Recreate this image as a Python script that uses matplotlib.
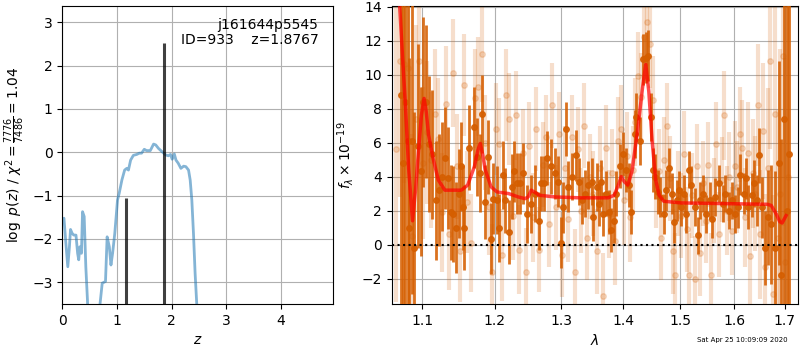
import numpy as np
import matplotlib
matplotlib.use('Agg')
import matplotlib.pyplot as plt
from matplotlib.ticker import FixedLocator, FixedFormatter, NullLocator

# --- p(z) panel ---
z_grid = [0.0, 0.03, 0.06, 0.10, 0.13, 0.15, 0.18, 0.21, 0.25, 0.28, 0.30, 0.32,
          0.35, 0.37, 0.40, 0.43, 0.46, 0.50, 0.60, 0.66, 0.69, 0.73, 0.79, 0.82,
          0.86, 0.89, 0.92, 0.96, 1.01, 1.04, 1.09, 1.14, 1.18, 1.21, 1.25, 1.30,
          1.36, 1.41, 1.45, 1.50, 1.54, 1.61, 1.67, 1.71, 1.76, 1.82, 1.89, 1.94,
          1.98, 2.01, 2.05, 2.08, 2.12, 2.17, 2.22, 2.26, 2.31, 2.34, 2.37, 2.40,
          2.43, 2.46, 2.52, 2.70]
logpz = [-1.56, -1.52, -2.02, -2.64, -2.18, -1.78, -1.87, -1.91, -1.91, -2.33, -2.48, -2.18,
         -2.33, -1.37, -1.48, -2.64, -3.41, -5.0, -6.0, -5.0, -3.5, -3.02, -2.98, -1.95,
         -2.18, -2.60, -2.33, -1.87, -1.10, -0.95, -0.64, -0.41, -0.37, -0.41, -0.18, -0.07,
         -0.05, -0.02, -0.02, 0.07, 0.04, 0.04, 0.19, 0.17, 0.09, 0.02, -0.06, -0.08,
         -0.05, -0.16, -0.04, -0.18, -0.25, -0.37, -0.32, -0.33, -0.41, -0.64, -1.10, -1.87,
         -2.79, -3.50, -5.0, -8.0]
z_peaks = [1.172, 1.859]
peak_heights = [-1.05, 2.52]
obj_label = 'j161644p5545\nID=933    z=1.8767'

# --- spectrum panel: bright beam (lambda in micron, flux in 1e-19) ---
wave_a = [1.0717, 1.0750, 1.0770, 1.0806, 1.0828, 1.0868, 1.0890, 1.0938, 1.0985, 1.1009,
          1.1044, 1.1088, 1.1132, 1.1185, 1.1219, 1.1260, 1.1295, 1.1340, 1.1384, 1.1415,
          1.1452, 1.1497, 1.1525, 1.1543, 1.1565, 1.1631, 1.1706, 1.1742, 1.1786, 1.1822,
          1.1862, 1.1905, 1.1945, 1.1975, 1.2038, 1.2058, 1.2120, 1.2150, 1.2199, 1.2250,
          1.2285, 1.2325, 1.2375, 1.2420, 1.2466, 1.2537, 1.2600, 1.2648, 1.2689, 1.2735,
          1.2781, 1.2843, 1.2895, 1.2947, 1.2990, 1.3030, 1.3069, 1.3110, 1.3170, 1.3227,
          1.3279, 1.3331, 1.3380, 1.3420, 1.3483, 1.3509, 1.3562, 1.3600, 1.3641, 1.3665,
          1.3720, 1.3765, 1.3806, 1.3845, 1.3889, 1.3945, 1.4000, 1.4045, 1.4101, 1.4142,
          1.4198, 1.4227, 1.4283, 1.4341, 1.4387, 1.4427, 1.4474, 1.4514, 1.4544, 1.4602,
          1.4631, 1.4707, 1.4737, 1.4796, 1.4845, 1.4886, 1.4929, 1.4970, 1.5018, 1.5060,
          1.5108, 1.5150, 1.5198, 1.5258, 1.5320, 1.5349, 1.5411, 1.5472, 1.5533, 1.5584,
          1.5645, 1.5709, 1.5784, 1.5828, 1.5893, 1.5956, 1.6019, 1.6071, 1.6115, 1.6181,
          1.6225, 1.6278, 1.6342, 1.6394, 1.6439, 1.6484, 1.6551, 1.6602, 1.6668, 1.6733,
          1.6798, 1.6878, 1.6917, 1.6985, 1.7040, 1.7097]
flux_a = [8.8, 4.8, 8.4, 6.1, 1.0, 6.1, -0.2, 5.8, 4.3, 8.4,
          8.4, 5.9, 5.3, 2.6, 3.2, 4.0, 5.1, 3.9, 1.9, 1.8,
          1.0, 3.0, 4.6, 2.2, 1.0, 5.7, 6.9, 5.15, 4.2, 7.7,
          2.5, 5.15, 0.35, 2.7, 2.6, 1.0, 4.1, 2.6, 0.75, 3.4,
          4.3, 3.6, 3.6, 4.2, 1.8, 2.4, 3.0, 1.4, 3.6, 3.6,
          5.1, 4.6, 4.2, 3.7, 0.1, 2.2, 6.8, 3.4, 4.0, 5.25,
          3.7, 2.6, 3.0, 3.5, 3.7, 1.6, 3.4, 2.4, 3.7, 1.8,
          3.0, 1.9, 0.85, 1.4, 3.0, 4.6, 5.35, 4.4, 3.5, 1.9,
          6.5, 7.5, 6.1, 10.9, 11.0, 11.1, 7.5, 4.4, 4.0, 3.1,
          2.8, 1.8, 3.2, 4.5, 3.0, 1.3, 2.6, 3.2, 2.2, 3.0,
          1.8, 4.4, 3.5, 2.2, 0.55, 2.6, 3.0, 1.8, 2.6, 1.5,
          2.8, 3.6, 2.4, 3.0, 2.0, 2.6, 1.8, 2.2, 4.1, 3.0,
          3.9, 2.2, 2.9, 3.6, 2.6, 5.25, 2.2, -0.2, 1.6, 1.2,
          -0.2, 4.8, -1.8, 7.4, 2.0, 5.35]
err_a = [16, 15, 14, 12, 10, 9, 8, 6, 5, 5,
         4.5, 4, 3.8, 3.5, 3.3, 3.2, 3.0, 3.0, 2.8, 2.8,
         2.7, 2.6, 2.6, 2.5, 2.5, 2.5, 2.4, 2.3, 2.3, 2.3,
         2.2, 2.2, 2.1, 2.1, 2.0, 2.0, 2.0, 1.9, 1.9, 1.9,
         1.8, 1.8, 1.8, 1.8, 1.7, 1.7, 1.7, 1.7, 1.6, 1.6,
         1.6, 1.6, 1.5, 1.5, 1.5, 1.5, 1.6, 1.5, 1.4, 1.5,
         1.4, 1.4, 1.4, 1.4, 1.4, 1.4, 1.4, 1.3, 1.3, 1.3,
         1.3, 1.3, 1.3, 1.3, 1.3, 1.3, 1.3, 1.3, 1.3, 1.3,
         1.4, 1.4, 1.4, 1.5, 1.5, 1.5, 1.4, 1.3, 1.3, 1.3,
         1.2, 1.2, 1.2, 1.2, 1.2, 1.2, 1.2, 1.1, 1.1, 1.1,
         1.1, 1.1, 1.1, 1.1, 1.1, 1.1, 1.1, 1.1, 1.1, 1.1,
         1.1, 1.1, 1.1, 1.1, 1.1, 1.1, 1.1, 1.2, 1.2, 1.2,
         1.2, 1.3, 1.3, 1.4, 1.5, 1.6, 1.8, 2.2, 2.8, 3.5,
         4.5, 6, 8, 11, 14, 16]

# --- spectrum panel: faint beam ---
wave_b = [1.066, 1.071, 1.076, 1.081, 1.086, 1.091, 1.096, 1.101, 1.106, 1.111,
          1.116, 1.121, 1.126, 1.131, 1.136, 1.141, 1.146, 1.151, 1.156, 1.161,
          1.166, 1.171, 1.176, 1.181, 1.186, 1.191, 1.196, 1.201, 1.206, 1.211,
          1.216, 1.221, 1.226, 1.231, 1.236, 1.241, 1.246, 1.251, 1.256, 1.261,
          1.266, 1.271, 1.276, 1.281, 1.286, 1.291, 1.296, 1.301, 1.306, 1.311,
          1.316, 1.321, 1.326, 1.331, 1.336, 1.341, 1.346, 1.351, 1.356, 1.361,
          1.366, 1.371, 1.376, 1.381, 1.386, 1.391, 1.396, 1.401, 1.406, 1.411,
          1.416, 1.421, 1.426, 1.431, 1.436, 1.441, 1.446, 1.451, 1.456, 1.461,
          1.466, 1.471, 1.476, 1.481, 1.486, 1.491, 1.496, 1.501, 1.506, 1.511,
          1.516, 1.521, 1.526, 1.531, 1.536, 1.541, 1.546, 1.551, 1.556, 1.561,
          1.566, 1.571, 1.576, 1.581, 1.586, 1.591, 1.596, 1.601, 1.606, 1.611,
          1.616, 1.621, 1.626, 1.631, 1.636, 1.641, 1.646, 1.651, 1.656, 1.661,
          1.666, 1.671, 1.676, 1.681, 1.686, 1.691, 1.696, 1.701, 1.706]
flux_b = [5.6, 10.8, 10.6, 10.4, 0.5, 7.4, 10.8, 4.8, 6.6, 5.0,
          7.7, 6.2, 1.9, 8.3, 0.6, 10.1, 4.6, -0.4, 9.4, 2.5,
          0.1, 8.6, 9.3, 11.2, 6.0, 2.2, -1.6, 6.8, 5.9, -0.6,
          8.8, 7.4, 1.7, 7.6, -0.3, 5.4, -1.6, 5.8, 1.6, 6.8,
          -0.3, 4.7, 6.3, 1.2, 8.2, 2.2, 6.5, -0.6, 4.5, 1.5,
          6.3, -1.6, 5.6, 2.0, 7.0, 0.4, 4.0, 3.0, -0.4, 4.5,
          -3.0, 5.7, 1.8, 4.2, 0.2, 6.1, 6.8, 2.6, 5.2, 1.6,
          4.4, 7.2, 9.9, 8.7, 12.2, 13.1, 11.8, 8.5, 3.5, 4.3,
          0.4, 5.0, 7.0, 3.9, -0.4, -1.8, 3.0, 1.7, 5.35, 0.9,
          -1.8, 2.9, -2.0, 4.6, -0.5, 3.6, 1.4, 4.7, -1.8, 2.6,
          5.9, 0.6, 3.8, 7.6, 2.0, 4.0, 0.8, 4.6, 3.4, 6.5,
          5.7, 1.6, 5.4, -0.7, 4.2, 3.0, 8.2, 0.6, 6.7, -1.3,
          4.5, 10.8, -2.9, 7.7, 0.4, 3.0, 11.1, -1.0, 4.0]
err_b = [9, 8, 7, 6.5, 6, 5.5, 5, 4.5, 4.2, 4,
         3.8, 3.6, 3.5, 3.4, 3.3, 3.2, 3.1, 3.0, 3.0, 3.0,
         2.9, 2.9, 2.9, 2.8, 2.8, 2.8, 2.8, 2.7, 2.7, 2.7,
         2.7, 2.7, 2.6, 2.6, 2.6, 2.6, 2.6, 2.6, 2.6, 2.5,
         2.5, 2.5, 2.5, 2.5, 2.5, 2.5, 2.5, 2.5, 2.5, 2.5,
         2.5, 2.5, 2.5, 2.5, 2.5, 2.5, 2.5, 2.5, 2.5, 2.5,
         2.5, 2.5, 2.6, 2.6, 2.6, 2.6, 2.6, 2.6, 2.6, 2.6,
         2.6, 2.6, 2.6, 2.6, 2.6, 2.6, 2.6, 2.6, 2.5, 2.5,
         2.5, 2.5, 2.5, 2.5, 2.5, 2.5, 2.5, 2.5, 2.5, 2.5,
         2.5, 2.5, 2.5, 2.5, 2.5, 2.5, 2.5, 2.5, 2.5, 2.5,
         2.5, 2.5, 2.5, 2.6, 2.6, 2.6, 2.6, 2.7, 2.7, 2.8,
         2.8, 2.9, 3.0, 3.1, 3.2, 3.4, 3.6, 3.8, 4.0, 4.3,
         4.7, 5.2, 5.8, 6.5, 7.5, 8.5, 10, 12, 14]

# --- best-fit model ---
model_wave = [1.066, 1.0708, 1.0740, 1.0773, 1.0818, 1.0869, 1.0910, 1.0947, 1.0985, 1.1021,
              1.1050, 1.1079, 1.1145, 1.1211, 1.1300, 1.1525, 1.1615, 1.1709, 1.1760, 1.1792,
              1.1825, 1.1862, 1.1945, 1.2029, 1.2199, 1.2344, 1.2442, 1.2490, 1.2536, 1.2600,
              1.2660, 1.2900, 1.3300, 1.3750, 1.3850, 1.3920, 1.3970, 1.4020, 1.4080, 1.4150,
              1.4250, 1.4330, 1.4387, 1.4440, 1.4500, 1.4560, 1.4620, 1.4700, 1.5000, 1.6000,
              1.6650, 1.6730, 1.6830, 1.6900, 1.6950, 1.7030]
model_flux = [17.0, 13.6, 11.0, 8.5, 4.5, 1.4, 3.3, 5.5, 7.6, 8.6,
              7.8, 6.5, 5.0, 3.8, 3.2, 3.2, 3.5, 4.6, 5.6, 5.95,
              5.3, 4.4, 3.4, 3.1, 3.0, 2.8, 2.7, 2.8, 3.2, 3.05,
              2.9, 2.8, 2.75, 2.75, 2.9, 3.5, 4.0, 3.7, 3.5, 4.3,
              6.8, 9.2, 10.6, 9.0, 6.0, 3.8, 2.9, 2.55, 2.45, 2.4,
              2.37, 2.3, 1.8, 1.35, 1.27, 1.7]

tick_waves = [1.1, 1.2, 1.3, 1.4, 1.5, 1.6, 1.7]
timestamp = 'Sat Apr 25 10:09:09 2020'

grism_color = '#d55e00'

fig = plt.figure(figsize=(8, 3.5), dpi=100)
ax1 = fig.add_axes([0.0779, 0.1314, 0.3388, 0.852])
ax2 = fig.add_axes([0.4896, 0.1314, 0.5081, 0.852])

# p(z)
ax1.plot(z_grid, logpz, color='#1f77b4', alpha=0.55, lw=2)
ax1.vlines(z_peaks, -3.5, peak_heights, color='k', alpha=0.75, lw=2.2)
ax1.text(0.945, 0.96, obj_label, ha='right', va='top', fontsize=10,
         transform=ax1.transAxes, linespacing=1.1)
ax1.set_xlim(0, 4.96)
ax1.set_ylim(-3.5, 3.38)
ax1.set_xticks([0, 1, 2, 3, 4])
ax1.set_yticks([-3, -2, -1, 0, 1, 2, 3])
ax1.set_xlabel('$z$')
ax1.set_ylabel(r'$\log\ p(z)$ / $\chi^2=\frac{7776}{7486}=1.04$')
ax1.grid()

# spectrum
ax2.errorbar(wave_b, flux_b, yerr=err_b, fmt='o', color=grism_color, alpha=0.2,
             ms=4, lw=3, zorder=2)
ax2.errorbar(wave_a, flux_a, yerr=err_a, fmt='o', color=grism_color, alpha=0.88,
             ms=4, lw=2, zorder=3)
ax2.plot(model_wave, model_flux, color='r', alpha=0.7, lw=2.5, zorder=5)
ax2.axhline(0, color='k', ls=':', lw=1.5, zorder=4)
ax2.set_xscale('log')
ax2.set_xlim(1.060, 1.728)
ax2.set_ylim(-3.5, 14.05)
ax2.xaxis.set_major_locator(FixedLocator(tick_waves))
ax2.xaxis.set_major_formatter(FixedFormatter(['%.1f' % w for w in tick_waves]))
ax2.xaxis.set_minor_locator(NullLocator())
ax2.set_yticks([-2, 0, 2, 4, 6, 8, 10, 12, 14])
ax2.set_xlabel(r'$\lambda$')
ax2.set_ylabel(r'$f_\lambda\times10^{-19}$')
ax2.grid()

fig.text(0.985, 0.029, timestamp, ha='right', va='center', fontsize=5)

fig.savefig('out.png', dpi=100)
